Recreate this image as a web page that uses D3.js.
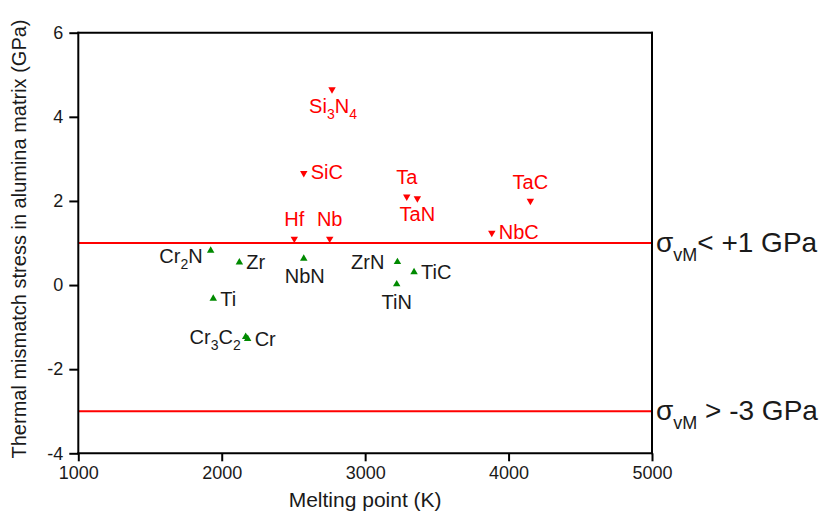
<!DOCTYPE html>
<html><head><meta charset="utf-8">
<script src="https://cdn.jsdelivr.net/npm/d3@7"></script>
<style>
body{margin:0;background:#fff}
text{font-family:"Liberation Sans",Arial,Helvetica,sans-serif}
</style>
</head><body>
<svg id="c" width="824" height="524"></svg>
<script>
// ---- data ----
const xTicks = [1000, 2000, 3000, 4000, 5000];
const yTicks = [-4, -2, 0, 2, 4, 6];
const redNames  = ["Si3N4", "SiC", "Hf", "Nb", "Ta", "TaN", "TaC", "NbC"];
const redMelt   = [2769, 2572, 2506, 2753, 3290, 3364, 4152, 3883];
const redStress = [4.65, 2.66, 1.10, 1.10, 2.10, 2.06, 2.00, 1.24];
const greenNames  = ["Cr2N", "Zr", "NbN", "Ti", "Cr3C2", "Cr", "ZrN", "TiC", "TiN"];
const greenMelt   = [1923, 2123, 2572, 1941, 2167, 2181, 3225, 3341, 3220];
const greenStress = [0.82, 0.54, 0.63, -0.32, -1.23, -1.28, 0.55, 0.31, 0.02];
const limitValues = [1, -3];
const limitTexts  = ["< +1 GPa", " > -3 GPa"];
const xTitle = "Melting point (K)";
const yTitle = "Thermal mismatch stress in alumina matrix (GPa)";

// ---- label placement (anchor, dx, dy in px relative to marker) ----
const labelPlace = {
  "Si3N4": ["middle", 1, 24], "SiC": ["start", 7, 6], "Hf": ["middle", 0, -13],
  "Nb": ["middle", 0, -13], "Ta": ["middle", 0, -13], "TaN": ["middle", 0, 23],
  "TaC": ["middle", 0, -12], "NbC": ["start", 7, 6],
  "Cr2N": ["end", -8, 12], "Zr": ["start", 7, 7], "NbN": ["middle", 1, 24],
  "Ti": ["start", 7, 7], "Cr3C2": ["end", -5, 7], "Cr": ["start", 7, 7],
  "ZrN": ["end", -13, 7], "TiC": ["start", 7, 7], "TiN": ["middle", 0, 25]
};

const RED = "#ff0000", GREEN = "#008a00";
const svg = d3.select("#c");
const m = {l: 78.3, r: 652, t: 32.7, b: 453.3};
const x = d3.scaleLinear().domain([1000, 5000]).range([m.l, m.r]);
const y = d3.scaleLinear().domain([-4, 6]).range([m.b, m.t]);

// limit lines
svg.selectAll("line.lim").data(limitValues).enter().append("line")
  .attr("x1", m.l).attr("x2", m.r)
  .attr("y1", d => y(d)).attr("y2", d => y(d))
  .attr("stroke", RED).attr("stroke-width", 2.2);

// axes
const gx = svg.append("g").attr("transform", `translate(0,${m.b})`)
  .call(d3.axisBottom(x).tickValues(xTicks).tickFormat(d3.format("d")).tickSize(8).tickSizeOuter(0).tickPadding(5));
const gy = svg.append("g").attr("transform", `translate(${m.l},0)`)
  .call(d3.axisLeft(y).tickValues(yTicks).tickFormat(d => d).tickSize(9).tickSizeOuter(0).tickPadding(6));
[gx, gy].forEach(g => {
  g.select(".domain").attr("stroke", "#000").attr("stroke-width", 2);
  g.selectAll(".tick line").attr("stroke", "#000").attr("stroke-width", 2);
  g.selectAll(".tick text").attr("font-size", 18).attr("fill", "#1a1a1a")
    .style("font-family", '"Liberation Sans",Arial,sans-serif');
});
gx.select(".domain").attr("d", `M${m.l - 1},0H${m.r + 1}`);
gy.select(".domain").attr("d", `M0,${m.t - 1}V${m.b + 1}`);
// top and right border
svg.append("line").attr("x1", m.l - 1).attr("x2", m.r + 1).attr("y1", m.t).attr("y2", m.t)
  .attr("stroke", "#000").attr("stroke-width", 2);
svg.append("line").attr("x1", m.r).attr("x2", m.r).attr("y1", m.t - 1).attr("y2", m.b + 1)
  .attr("stroke", "#000").attr("stroke-width", 2);

// titles
svg.append("text").attr("x", x(3000)).attr("y", 507).attr("text-anchor", "middle")
  .attr("font-size", 21).attr("fill", "#1a1a1a").text(xTitle);
svg.append("text").attr("transform", `translate(26,${(m.t + m.b) / 2 - 4}) rotate(-90)`)
  .attr("text-anchor", "middle").attr("font-size", 20).attr("fill", "#1a1a1a").text(yTitle);

// formula text with subscripts
function formula(sel, name) {
  const parts = name.match(/\d+|\D+/g);
  let sub = false;
  parts.forEach(p => {
    const isNum = /\d/.test(p);
    const t = sel.append("tspan").text(p);
    if (isNum && !sub) { t.attr("dy", 6).attr("font-size", 14); sub = true; }
    else if (isNum) { t.attr("font-size", 14); }
    else if (sub) { t.attr("dy", -6); sub = false; }
  });
}

const tri = d3.symbol().type(d3.symbolTriangle).size(24);
function series(names, melt, stress, color, down, labelColor) {
  const data = names.map((n, i) => ({n, mx: melt[i], s: stress[i]}));
  svg.append("g").selectAll("path").data(data).enter().append("path")
    .attr("d", tri)
    .attr("transform", d => `translate(${x(d.mx)},${y(d.s)})${down ? " rotate(180)" : ""}`)
    .attr("fill", color);
  const lg = svg.append("g").attr("font-size", 20).attr("fill", labelColor);
  data.forEach(d => {
    const p = labelPlace[d.n];
    const t = lg.append("text").attr("x", x(d.mx) + p[1]).attr("y", y(d.s) + p[2])
      .attr("text-anchor", p[0]);
    formula(t, d.n);
  });
}
series(redNames, redMelt, redStress, RED, true, RED);
series(greenNames, greenMelt, greenStress, GREEN, false, "#1a1a1a");

// right-side annotations
limitValues.forEach((v, i) => {
  const t = svg.append("text").attr("x", m.r + 4).attr("y", y(v) + 9)
    .attr("font-size", 28).attr("fill", "#1a1a1a");
  t.append("tspan").text("σ");
  t.append("tspan").attr("dy", 9).attr("font-size", 18).text("vM");
  t.append("tspan").attr("dy", -9).text(limitTexts[i]);
});
</script>
</body></html>
